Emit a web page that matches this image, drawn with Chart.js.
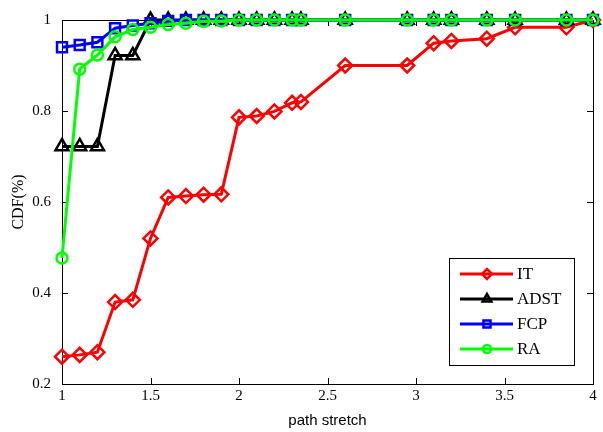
<!DOCTYPE html>
<html>
<head>
<meta charset="utf-8">
<script src="https://cdn.jsdelivr.net/npm/chart.js@4/dist/chart.umd.min.js"></script>
<style>
  html, body { margin: 0; padding: 0; background: #fff; }
  #wrap { width: 603px; height: 432px; }
</style>
</head>
<body>
<div id="wrap"><canvas id="cdfChart" width="603" height="432"></canvas></div>
<script>
// path stretch sample points (shared by all series)
var stretch = [1, 1.1, 1.2, 1.3, 1.4, 1.5, 1.6, 1.7, 1.8, 1.9, 2, 2.1, 2.2, 2.3, 2.35, 2.6, 2.95, 3.1, 3.2, 3.4, 3.56, 3.85, 4];

var itVals   = [0.26, 0.264, 0.27, 0.38, 0.385, 0.52, 0.61, 0.613, 0.616, 0.617, 0.786, 0.789, 0.799, 0.818, 0.82, 0.9, 0.9, 0.949, 0.954, 0.959, 0.984, 0.984, 1];
var adstVals = [0.722, 0.722, 0.722, 0.922, 0.922, 1, 1, 1, 1, 1, 1, 1, 1, 1, 1, 1, 1, 1, 1, 1, 1, 1, 1];
var fcpVals  = [0.94, 0.945, 0.951, 0.982, 0.988, 0.993, 0.998, 1, 1, 1, 1, 1, 1, 1, 1, 1, 1, 1, 1, 1, 1, 1, 1];
var raVals   = [0.477, 0.892, 0.923, 0.963, 0.979, 0.984, 0.99, 0.993, 0.997, 0.998, 1, 1, 1, 1, 1, 1, 1, 1, 1, 1, 1, 1, 1];

var seriesNames = ['IT', 'ADST', 'FCP', 'RA'];
var xTicks = [1, 1.5, 2, 2.5, 3, 3.5, 4];
var yTicks = [0.2, 0.4, 0.6, 0.8, 1];

function pairs(vals) {
    return stretch.map(function (x, i) { return { x: x, y: vals[i] }; });
}

// later series are painted over earlier ones, as in the original
function makeSet(name, vals, color, style, radius, order) {
    return {
        label: name,
        data: pairs(vals),
        order: order,
        borderColor: color,
        borderWidth: 3,
        pointStyle: style,
        pointRadius: radius,
        pointBorderWidth: 2.5,
        pointBorderColor: color,
        pointBackgroundColor: 'rgba(0,0,0,0)',
        pointHoverRadius: radius,
        tension: 0,
        clip: false,
        fill: false
    };
}

// box frame + inward ticks like the original figure
var framePlugin = {
    id: 'frame',
    beforeDatasetsDraw: function (chart) {
        var ctx = chart.ctx, a = chart.chartArea;
        var xs = chart.scales.x, ys = chart.scales.y;
        ctx.save();
        ctx.strokeStyle = '#000';
        ctx.lineWidth = 1;
        ctx.beginPath();
        xTicks.forEach(function (v) {
            var px = Math.round(xs.getPixelForValue(v)) + 0.5;
            ctx.moveTo(px, a.bottom); ctx.lineTo(px, a.bottom - 6);
            ctx.moveTo(px, a.top); ctx.lineTo(px, a.top + 6);
        });
        yTicks.forEach(function (v) {
            var py = Math.round(ys.getPixelForValue(v)) + 0.5;
            ctx.moveTo(a.left, py); ctx.lineTo(a.left + 6, py);
            ctx.moveTo(a.right, py); ctx.lineTo(a.right - 6, py);
        });
        ctx.stroke();
        ctx.strokeRect(Math.round(a.left) + 0.5, Math.round(a.top) + 0.5,
            Math.round(a.right - a.left), Math.round(a.bottom - a.top));
        ctx.restore();
    }
};

var legendPlugin = {
    id: 'boxLegend',
    afterDatasetsDraw: function (chart) {
        var ctx = chart.ctx, a = chart.chartArea;
        var bw = 125, bh = 107;
        var bx = a.right - 19 - bw, by = a.bottom - 19 - bh;
        ctx.save();
        ctx.fillStyle = '#fff';
        ctx.fillRect(bx, by, bw, bh);
        ctx.strokeStyle = '#000';
        ctx.lineWidth = 1;
        ctx.strokeRect(Math.round(bx) + 0.5, Math.round(by) + 0.5, bw, bh);
        ctx.font = '17px "Liberation Serif", "Times New Roman", serif';
        ctx.textBaseline = 'middle';
        chart.data.datasets.forEach(function (ds, i) {
            var ry = by + 16 + i * 25;
            ctx.strokeStyle = ds.borderColor;
            ctx.lineWidth = 3;
            ctx.beginPath();
            ctx.moveTo(bx + 11, ry); ctx.lineTo(bx + 64, ry);
            ctx.stroke();
            ctx.strokeStyle = ds.borderColor;
            ctx.fillStyle = 'rgba(0,0,0,0)';
            ctx.lineWidth = 2.5;
            Chart.helpers.drawPoint(ctx, {
                pointStyle: ds.pointStyle,
                radius: ds.pointStyle === 'circle' ? 4 : 5,
                borderWidth: 2.5,
                rotation: 0
            }, bx + 38, ry);
            ctx.fillStyle = '#000';
            ctx.fillText(ds.label, bx + 68, ry + 1);
        });
        ctx.restore();
    }
};

var tickFont = { family: '"Liberation Serif", "Times New Roman", serif', size: 15 };

var ctx = document.getElementById('cdfChart');
var cdfChart = new Chart(ctx, {
    type: 'line',
    data: {
        datasets: [
            makeSet(seriesNames[0], itVals, '#ff0000', 'rectRot', 7, 3),
            makeSet(seriesNames[1], adstVals, '#000000', 'triangle', 7.5, 2),
            makeSet(seriesNames[2], fcpVals, '#0000ff', 'rect', 7, 1),
            makeSet(seriesNames[3], raVals, '#00ff00', 'circle', 5.5, 0)
        ]
    },
    options: {
        responsive: false,
        animation: false,
        layout: { padding: { left: 0, right: 5, top: 17, bottom: 0 } },
        plugins: {
            legend: { display: false },
            tooltip: { enabled: false }
        },
        scales: {
            x: {
                type: 'linear',
                min: 1,
                max: 4,
                afterBuildTicks: function (scale) {
                    scale.ticks = xTicks.map(function (v) { return { value: v }; });
                },
                afterFit: function (scale) { scale.height = 48; },
                grid: { display: false, drawTicks: false },
                border: { display: false },
                ticks: {
                    color: '#000',
                    font: tickFont,
                    padding: 3,
                    maxRotation: 0,
                    callback: function (v) { return String(Number(v.toFixed(1))); }
                },
                title: {
                    display: true,
                    text: 'path stretch',
                    color: '#000',
                    font: { family: '"Liberation Sans", Arial, sans-serif', size: 15 },
                    padding: { top: 0, bottom: 2 }
                }
            },
            y: {
                min: 0.2,
                max: 1,
                afterBuildTicks: function (scale) {
                    scale.ticks = yTicks.map(function (v) { return { value: v }; });
                },
                afterFit: function (scale) { scale.width = 62; },
                grid: { display: false, drawTicks: false },
                border: { display: false },
                ticks: {
                    color: '#000',
                    font: tickFont,
                    padding: 11,
                    callback: function (v) { return String(Number(v.toFixed(1))); }
                },
                title: {
                    display: true,
                    text: 'CDF(%)',
                    color: '#000',
                    font: { family: '"Liberation Serif", "Times New Roman", serif', size: 16 },
                    padding: { top: 9, bottom: 0 }
                }
            }
        }
    },
    plugins: [framePlugin, legendPlugin]
});
</script>
</body>
</html>
